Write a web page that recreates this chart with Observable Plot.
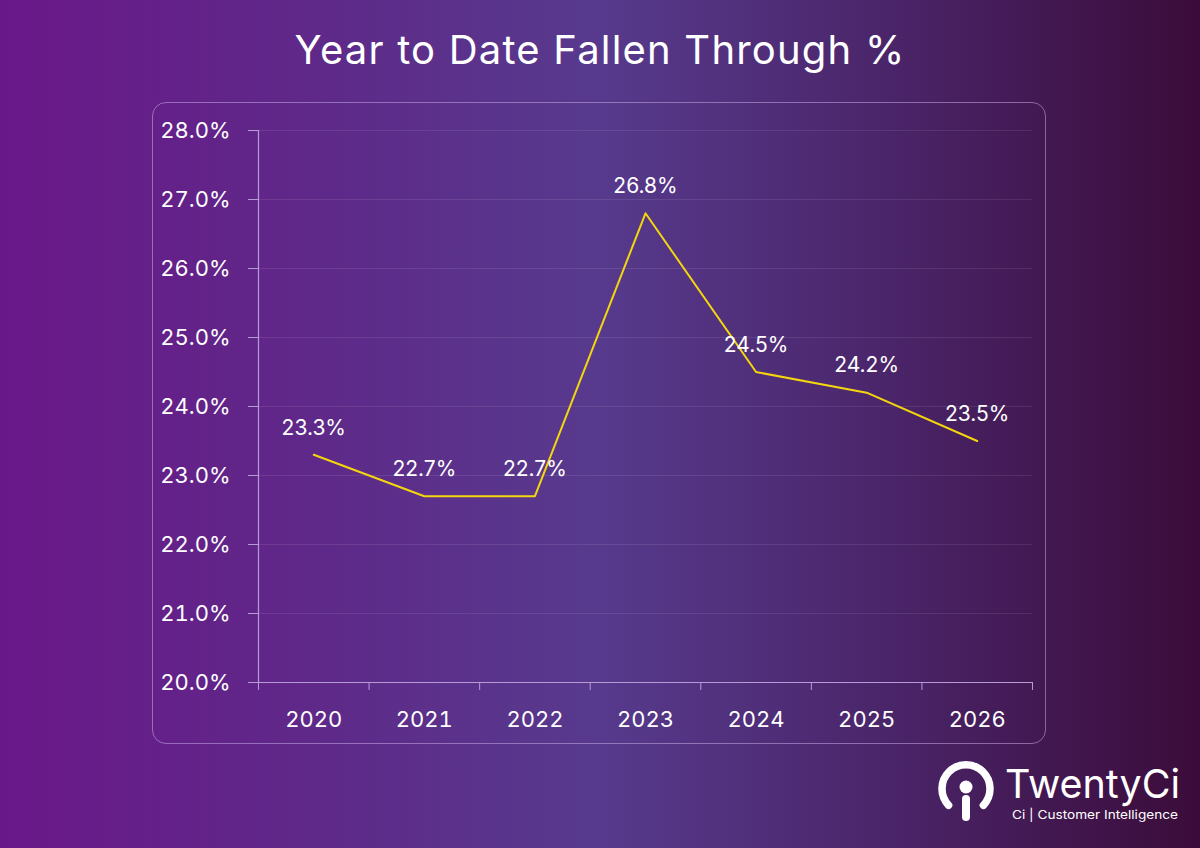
<!DOCTYPE html>
<html>
<head>
<meta charset="utf-8">
<script src="https://cdn.jsdelivr.net/npm/d3@7"></script>
<script src="https://cdn.jsdelivr.net/npm/@observablehq/plot@0.6"></script>
<style>
  html, body { margin: 0; padding: 0; }
  body {
    width: 1200px; height: 848px; overflow: hidden; position: relative;
    background: linear-gradient(90deg, #6a1889 0%, #5f2889 25%, #573a8d 50%, #4a2468 75%, #3b0c3a 100%);
    font-family: Inter, "Open Sans", sans-serif; color: #fff;
  }
  #title {
    height: 100px; line-height: 100px; text-align: center;
    font-size: 40px; font-weight: 400; color: #fff; letter-spacing: 1.2px;
  }
  #panel {
    position: absolute; left: 152px; top: 102px; width: 894px; height: 642px;
    border: 1.2px solid rgba(200,170,230,0.55); border-radius: 14px; box-sizing: border-box;
  }
  #chart { position: absolute; left: 0; top: 100px; }
  #logo { position: absolute; left: 930px; top: 755px; width: 260px; height: 80px; }
</style>
</head>
<body>
<div id="title">Year to Date Fallen Through %</div>
<div id="panel"></div>
<div id="chart"></div>
<svg id="logo" width="260" height="80" viewBox="0 0 260 80">
  <path d="M 18.6 50.3 A 24 24 0 1 1 53.4 50.3" fill="none" stroke="#fff" stroke-width="7.5" stroke-linecap="round"/>
  <circle cx="36" cy="32" r="6.5" fill="#fff"/>
  <line x1="36" y1="44" x2="36" y2="62" stroke="#fff" stroke-width="8" stroke-linecap="round"/>
  <text x="75" y="43" font-family="Inter, sans-serif" font-size="40" font-weight="400" fill="#fff" textLength="175" lengthAdjust="spacingAndGlyphs">TwentyCi</text>
  <text x="82" y="64" font-family="Inter, sans-serif" font-size="12" font-weight="400" fill="#fff" textLength="166" lengthAdjust="spacingAndGlyphs">Ci | Customer Intelligence</text>
</svg>
<script>
const years = [2020, 2021, 2022, 2023, 2024, 2025, 2026];
const values = [23.3, 22.7, 22.7, 26.8, 24.5, 24.2, 23.5];
const yTicks = [20, 21, 22, 23, 24, 25, 26, 27, 28];

const data = years.map((year, i) => ({year, value: values[i]}));
const edges = [...years.map(y => y - 0.5), years[years.length - 1] + 0.5];

const axisColor = "#b79bd8";
const fmtPct = d => d.toFixed(1) + "%";

const chart = Plot.plot({
  width: 1200,
  height: 748,
  marginLeft: 258,
  marginRight: 168,
  marginTop: 30,
  marginBottom: 166,
  style: {background: "transparent", color: "#fff", fontFamily: "Inter, 'Open Sans', sans-serif", overflow: "visible"},
  x: {domain: [edges[0], edges[edges.length - 1]]},
  y: {domain: [20, 28]},
  marks: [
    Plot.gridY(yTicks, {stroke: "#ffffff", strokeOpacity: 0.09, strokeWidth: 1}),
    Plot.axisY({ticks: yTicks, tickFormat: fmtPct, tickSize: 10, tickPadding: 18, stroke: axisColor, strokeOpacity: 1, fontSize: 22, fill: "#fff", label: null}),
    Plot.axisX({ticks: edges, tickFormat: () => "", tickSize: 8, stroke: axisColor, strokeOpacity: 1, label: null}),
    Plot.axisX({ticks: years, tickFormat: d => String(d), tickSize: 0, tickPadding: 29, fontSize: 22, fill: "#fff", label: null}),
    Plot.ruleY([20], {x1: edges[0], x2: edges[edges.length - 1], stroke: axisColor, strokeWidth: 1.2}),
    Plot.ruleX([edges[0]], {y1: 20, y2: 28, stroke: axisColor, strokeWidth: 1.2}),
    Plot.line(data, {x: "year", y: "value", stroke: "#f3d60d", strokeWidth: 2}),
    Plot.text(data, {x: "year", y: "value", text: d => fmtPct(d.value), dy: -27, fontSize: 21, fill: "#fff"})
  ]
});
document.getElementById("chart").appendChild(chart);
</script>
</body>
</html>
